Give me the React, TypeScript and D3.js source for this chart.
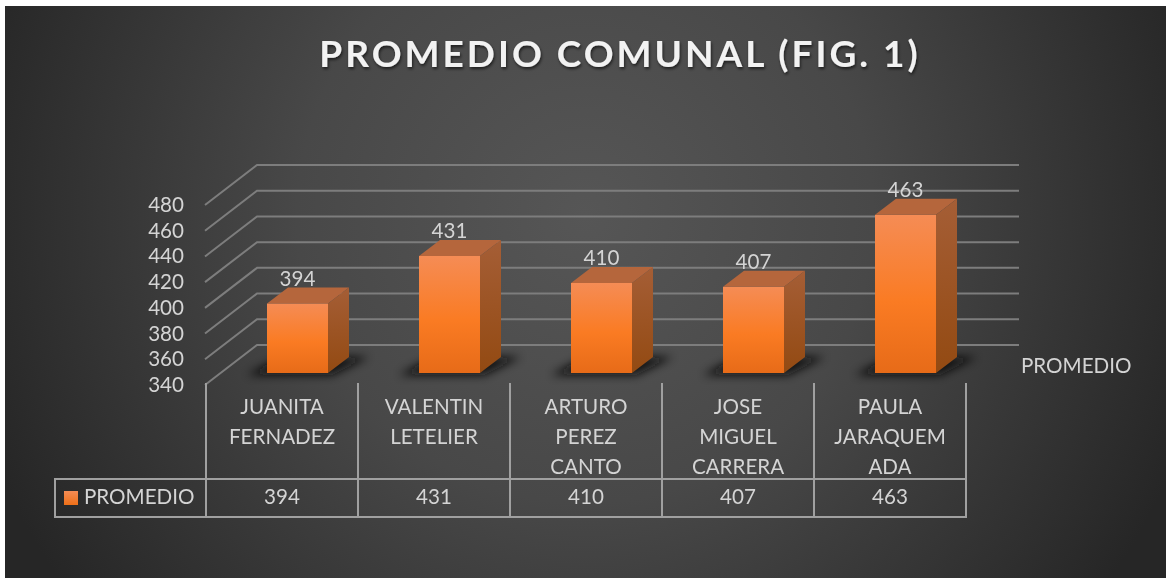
import React from "react";
import * as d3 from "d3";

const categories = ["JUANITA FERNADEZ", "VALENTIN LETELIER", "ARTURO PEREZ CANTO", "JOSE MIGUEL CARRERA", "PAULA JARAQUEM ADA"];
const categoryLines = [["JUANITA", "FERNADEZ"], ["VALENTIN", "LETELIER"], ["ARTURO", "PEREZ", "CANTO"], ["JOSE", "MIGUEL", "CARRERA"], ["PAULA", "JARAQUEM", "ADA"]];
const values = [394, 431, 410, 407, 463];
const yTicks = [340, 360, 380, 400, 420, 440, 460, 480];
const seriesName = "PROMEDIO";
const titleText = "PROMEDIO COMUNAL (FIG. 1)";

const FONT = "Lato, 'Open Sans', sans-serif";
const TXT = "#d4d4d4";
const FS = 20.6;

// floor of the 3D box: front edge and back wall offset
const DX = 52, DY = -40;
const x = d3.scaleBand<string>().domain(categories).range([206, 966]);
const y = d3.scaleLinear().domain([340, 480]).range([385, 205]);
// bar front plane sits 30% of the way into the floor
const barShiftX = 61;
const barShiftY = -12;
const barW = 61;
const depthX = 21, depthY = -16;

export default function App() {
  return (
    <svg width={1166} height={578} style={{ position: "absolute", left: 0, top: 0, background: "#fff" }} fontFamily={FONT}>
      <defs>
        <radialGradient id="bg" gradientUnits="userSpaceOnUse" cx={585} cy={215} r={640}>
          <stop offset="0" stopColor="#565656" />
          <stop offset="0.45" stopColor="#484848" />
          <stop offset="1" stopColor="#262626" />
        </radialGradient>
        <linearGradient id="front" x1="0" y1="0" x2="0" y2="1">
          <stop offset="0" stopColor="#f58c55" />
          <stop offset="0.55" stopColor="#fa7b23" />
          <stop offset="1" stopColor="#e76b18" />
        </linearGradient>
        <linearGradient id="side" x1="0" y1="0" x2="0" y2="1">
          <stop offset="0" stopColor="#a55e36" />
          <stop offset="1" stopColor="#934a12" />
        </linearGradient>
        <linearGradient id="swatch" x1="0" y1="0" x2="0" y2="1">
          <stop offset="0" stopColor="#f58c55" />
          <stop offset="1" stopColor="#ee7018" />
        </linearGradient>
        <filter id="blur" x="-30%" y="-80%" width="160%" height="260%">
          <feGaussianBlur stdDeviation="5" />
        </filter>
        <filter id="tshadow" x="-5%" y="-20%" width="110%" height="150%">
          <feDropShadow dx="1" dy="2" stdDeviation="1.5" floodColor="#000" floodOpacity="0.6" />
        </filter>
        <filter id="soft" x="-5%" y="-20%" width="110%" height="140%">
          <feGaussianBlur stdDeviation="0.25" />
        </filter>
      </defs>

      <rect x={5} y={6} width={1161} height={572} fill="url(#bg)" />

      <text x={620} y={67} textAnchor="middle" fontSize={37} fontWeight={700} letterSpacing={3} fill="#f2f2f2" filter="url(#tshadow)">
        {titleText}
      </text>

      {/* gridlines: side wall and back wall */}
      <g stroke="#7d7d7d" strokeWidth={2} fill="none">
        {yTicks.map((t) => (
          <path
            key={t}
            d={d3.line()([
              [205, y(t)],
              [205 + DX, y(t) + DY],
              [1019, y(t) + DY],
            ]) as string}
          />
        ))}
      </g>

      {/* y axis tick labels */}
      <g fontSize={FS} fill={TXT} textAnchor="end" filter="url(#soft)">
        {yTicks.map((t) => (
          <text key={t} x={184} y={y(t) + 7}>{t}</text>
        ))}
      </g>

      {/* bars */}
      {categories.map((c, i) => {
        const x0 = (x(c) as number) + barShiftX;
        const x1 = x0 + barW;
        const base = y(340) + barShiftY;
        const top = base - (y(340) - y(values[i]));
        const poly = (pts: [number, number][]) => (d3.line()(pts) as string) + "Z";
        return (
          <g key={c}>
            <path
              d={poly([[x0 - 20, base + 2], [x1 + 4, base + 2], [x1 + depthX + 20, base + depthY], [x0 + 14, base + depthY]])}
              fill="#0a0a0a"
              opacity={0.9}
              filter="url(#blur)"
            />
            <path d={poly([[x0, top], [x1, top], [x1 + depthX, top + depthY], [x0 + depthX, top + depthY]])} fill="#b5663c" />
            <path d={poly([[x1, top], [x1 + depthX, top + depthY], [x1 + depthX, base + depthY], [x1, base]])} fill="url(#side)" />
            <rect x={x0} y={top} width={barW} height={base - top} fill="url(#front)" />
            <text x={x0 + barW / 2} y={top - 18} textAnchor="middle" fontSize={FS} fill={TXT} filter="url(#soft)">{values[i]}</text>
          </g>
        );
      })}

      {/* series axis label */}
      <text x={1021} y={373} fontSize={FS} fill={TXT} filter="url(#soft)">{seriesName}</text>

      {/* data table */}
      <g stroke="#a0a0a0" strokeWidth={2} fill="none">
        <path d="M54 479H967M54 517H967M55 479V517" />
        {categories.map((c) => (
          <path key={c} d={`M${x(c)} 383V517`} />
        ))}
        <path d={`M${x.range()[1]} 383V517`} />
      </g>
      <g fontSize={FS} fill={TXT} textAnchor="middle" filter="url(#soft)">
        {categories.map((c, i) => (
          <g key={c}>
            {categoryLines[i].map((line, j) => (
              <text key={line} x={(x(c) as number) + x.bandwidth() / 2} y={414 + j * 30}>{line}</text>
            ))}
            <text x={(x(c) as number) + x.bandwidth() / 2} y={504}>{values[i]}</text>
          </g>
        ))}
      </g>
      <rect x={64} y={491} width={14} height={14} fill="url(#swatch)" />
      <text x={84} y={504} fontSize={FS} fill={TXT} filter="url(#soft)">{seriesName}</text>
    </svg>
  );
}
